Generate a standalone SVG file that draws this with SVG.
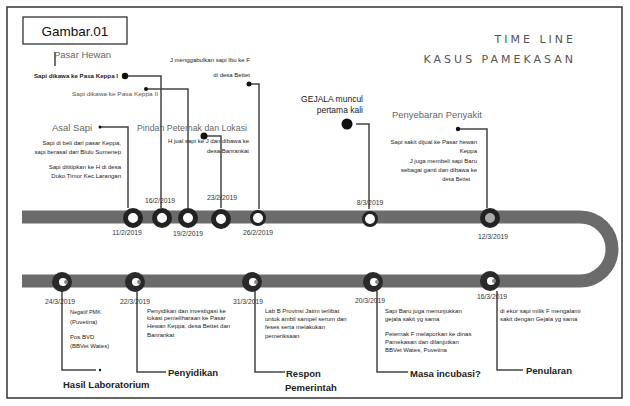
<svg xmlns="http://www.w3.org/2000/svg" width="630" height="406" viewBox="0 0 630 406">
<style>
.sm{font-family:"Liberation Sans",Arial,sans-serif;font-size:6px;fill:#222}
.hd{font-family:"Liberation Sans",Arial,sans-serif;font-size:9.5px;fill:#666}
.lb{font-family:"Liberation Sans",Arial,sans-serif;font-size:9.5px;font-weight:bold;fill:#222}
.dt{font-family:"Liberation Sans",Arial,sans-serif;font-size:6.8px;fill:#333;text-anchor:middle}
.ti{font-family:"DejaVu Sans",sans-serif;font-size:11px;fill:#555;letter-spacing:3px}
.cn{fill:none;stroke:#444;stroke-width:1.5}
.dot{fill:#111}
.rt{fill:#fff;stroke:#222;stroke-width:5}
.rn{fill:#fff;stroke:#222;stroke-width:3}
.bc{fill:#2a2a2a}
</style>
<rect x="7" y="7" width="615" height="391" fill="#fff" stroke="#333" stroke-width="1.5"/>
<g id="label-box">
<rect x="23" y="17" width="104" height="27" fill="#fff" stroke="#222" stroke-width="1.2"/>
<text x="75" y="36" text-anchor="middle" style="font-family:'Liberation Sans',Arial,sans-serif;font-size:13.5px;fill:#111">Gambar.01</text>
</g>
<g id="title">
<text class="ti" x="576" y="43" text-anchor="end">TIME LINE</text>
<text class="ti" x="576" y="63" text-anchor="end">KASUS PAMEKASAN</text>
</g>
<g id="timeline-bar">
<path d="M22,217 H580 A32,32 0 0 1 580,281 H22" fill="none" stroke="#6b6b6b" stroke-width="13"/>
</g>
<g id="connectors">
<polyline class="cn" points="100,127 128,127 128,208"/>
<circle class="dot" cx="100" cy="127" r="1.5"/>
<polyline class="cn" points="125,76 161,76 161,208"/>
<circle class="dot" cx="125" cy="76" r="3.2"/>
<polyline class="cn" points="146,89 188,89 188,208"/>
<circle class="dot" cx="146" cy="89" r="2"/>
<polyline class="cn" points="249,84 259,84 259,209"/>
<circle class="dot" cx="249" cy="84" r="2.5"/>
<polyline class="cn" points="204,136 221,136 221,208"/>
<circle class="dot" cx="204" cy="136" r="3.5"/>
<polyline class="cn" points="356,124 369,124 369,209"/>
<circle class="dot" cx="347" cy="124" r="5.5"/>
<polyline class="cn" points="458,129 487,129 487,208"/>
<circle class="dot" cx="458" cy="129" r="2.2"/>
<polyline class="cn" points="62,291 62,370 96,370"/>
<circle class="dot" cx="100" cy="370" r="1.2"/>
<polyline class="cn" points="137,291 137,372 166,372"/>
<polyline class="cn" points="255,291 255,372 285,372"/>
<polyline class="cn" points="377,291 377,372 408,372"/>
<polyline class="cn" points="497,291 497,370 523,370"/>
<line class="cn" x1="55" y1="52" x2="55" y2="66" stroke-width="1"/>
</g>
<g id="n-11-2">
<circle class="rt" cx="133" cy="218" r="7.5"/>
<text class="dt" x="127" y="235">11/2/2019</text>
</g>
<g id="n-16-2">
<circle class="rt" cx="162" cy="218" r="7.5"/>
<text class="dt" x="160" y="203">16/2/2019</text>
</g>
<g id="n-19-2">
<circle class="rt" cx="188" cy="218" r="7.5"/>
<text class="dt" x="188" y="236">19/2/2019</text>
</g>
<g id="n-23-2">
<circle class="rt" cx="221" cy="219" r="7.5"/>
<text class="dt" x="222" y="200">23/2/2019</text>
</g>
<g id="n-26-2">
<circle class="rn" cx="258" cy="218" r="6.5"/>
<text class="dt" x="258" y="235">26/2/2019</text>
</g>
<g id="n-8-3">
<circle class="rn" cx="370" cy="219" r="6.5"/>
<text class="dt" x="370" y="205">8/3/2019</text>
</g>
<g id="n-12-3">
<circle cx="490" cy="218" r="7.5" fill="#aaa" stroke="#222" stroke-width="5"/>
<text class="dt" x="493" y="239">12/3/2019</text>
</g>
<g id="n-24-3">
<circle class="bc" cx="62" cy="282" r="10"/>
<circle cx="63" cy="282" r="4" fill="#fff"/>
<circle cx="66" cy="282" r="2" fill="#888"/>
<text class="dt" x="60" y="304">24/3/2019</text>
</g>
<g id="n-22-3">
<circle class="bc" cx="135" cy="282" r="10"/>
<circle cx="136" cy="282" r="4" fill="#fff"/>
<circle cx="139" cy="282" r="2" fill="#888"/>
<text class="dt" x="135" y="304">22/3/2019</text>
</g>
<g id="n-31-3">
<circle class="bc" cx="252" cy="282" r="10"/>
<circle cx="253" cy="282" r="4" fill="#fff"/>
<circle cx="256" cy="282" r="2" fill="#888"/>
<text class="dt" x="248" y="304">31/3/2019</text>
</g>
<g id="n-20-3">
<circle class="bc" cx="373" cy="282" r="10"/>
<circle cx="374" cy="282" r="4" fill="#fff"/>
<circle cx="377" cy="282" r="2" fill="#888"/>
<text class="dt" x="370" y="303">20/3/2019</text>
</g>
<g id="n-16-3">
<circle class="bc" cx="490" cy="281" r="10"/>
<circle cx="491" cy="281" r="4" fill="#fff"/>
<circle cx="494" cy="281" r="2" fill="#888"/>
<text class="dt" x="492" y="299">16/3/2019</text>
</g>
<g id="pasar-hewan">
<text class="hd" x="54" y="58">Pasar Hewan</text>
<text class="sm" x="34" y="78" font-weight="bold" textLength="84" lengthAdjust="spacingAndGlyphs">Sapi dikawa ke Pasa Keppa I</text>
<text class="sm" x="72" y="96" style="font-size:5px;fill:#555" textLength="86" lengthAdjust="spacingAndGlyphs">Sapi dikawa ke Pasa Keppa II</text>
</g>
<g id="bettet">
<text class="sm" x="250" y="62" text-anchor="end">J menggabulkan sapi Ibu ke F</text>
<text class="sm" x="250" y="77" text-anchor="end">di desa Bettet</text>
</g>
<g id="asal-sapi">
<text class="hd" x="52" y="131">Asal Sapi</text>
<text class="sm" x="121" y="145" text-anchor="end">Sapi di beli dari pasar Keppa,</text>
<text class="sm" x="121" y="154" text-anchor="end">sapi berasal dari Blulu Sumenep</text>
<text class="sm" x="121" y="169" text-anchor="end">Sapi dititipkan ke H di desa</text>
<text class="sm" x="121" y="178" text-anchor="end">Duko Timor Kec.Larangan</text>
</g>
<g id="pindah">
<text class="hd" x="137" y="131" style="font-size:9px" textLength="110" lengthAdjust="spacingAndGlyphs">Pindah Peternak dan Lokasi</text>
<text class="sm" x="249" y="143" text-anchor="end">H jual sapi ke J dan dibawa ke</text>
<text class="sm" x="249" y="153" text-anchor="end">desa Banrankat</text>
</g>
<g id="gejala">
<text x="363" y="102" text-anchor="end" style="font-family:'Liberation Sans',Arial,sans-serif;font-size:8.5px;fill:#222">GEJALA muncul</text>
<text x="363" y="113" text-anchor="end" style="font-family:'Liberation Sans',Arial,sans-serif;font-size:8.5px;fill:#222">pertama kali</text>
</g>
<g id="penyebaran">
<text class="hd" x="392" y="118" textLength="90" lengthAdjust="spacingAndGlyphs">Penyebaran Penyakit</text>
<text class="sm" x="477" y="144" text-anchor="end">Sapi sakit dijual ke Pasar hewan</text>
<text class="sm" x="477" y="153" text-anchor="end">Keppa</text>
<text class="sm" x="477" y="163" text-anchor="end">J juga membeli sapi Baru</text>
<text class="sm" x="477" y="172" text-anchor="end">sebagai ganti dan dibawa ke</text>
<text class="sm" x="470" y="181" text-anchor="end" style="font-size:5.5px">desa Bettet</text>
</g>
<g id="hasil-lab">
<text class="sm" x="70" y="314" style="font-size:5.5px">Negatif PMK</text>
<text class="sm" x="70" y="324">(Puvetina)</text>
<text class="sm" x="70" y="339">Pos BVD</text>
<text class="sm" x="70" y="348">(BBVet Wates)</text>
<text class="lb" x="63" y="388">Hasil Laboratorium</text>
</g>
<g id="penyidikan">
<text class="sm" x="147" y="313">Penyidikan dan investigasi ke</text>
<text class="sm" x="147" y="320">lokasi pemeliharaan ke Pasar</text>
<text class="sm" x="147" y="328">Hewan Keppa, desa Bettet dan</text>
<text class="sm" x="147" y="337">Banrankat</text>
<text class="lb" x="168" y="376">Penyidikan</text>
</g>
<g id="respon">
<text class="sm" x="265" y="313">Lab B Provinsi Jatim terlibat</text>
<text class="sm" x="265" y="321">untuk ambil sampel serum dan</text>
<text class="sm" x="265" y="329">feses serta melakukan</text>
<text class="sm" x="265" y="338">pemeriksaan</text>
<text class="lb" x="286" y="377">Respon</text>
<text class="lb" x="285" y="391">Pemerintah</text>
</g>
<g id="masa-inkubasi">
<text class="sm" x="385" y="313">Sapi Baru juga menunjukkan</text>
<text class="sm" x="385" y="321">gejala sakit yg sama</text>
<text class="sm" x="385" y="336">Peternak F melaporkan ke dinas</text>
<text class="sm" x="385" y="344">Pamekasan dan dilanjutkan</text>
<text class="sm" x="385" y="352">BBVet Wates, Puvetina</text>
<text class="lb" x="410" y="377">Masa incubasi?</text>
</g>
<g id="penularan">
<text class="sm" x="500" y="313">di ekor sapi milik F mengalami</text>
<text class="sm" x="500" y="321">sakit dengan Gejala yg sama</text>
<text class="lb" x="526" y="374">Penularan</text>
</g>
</svg>
